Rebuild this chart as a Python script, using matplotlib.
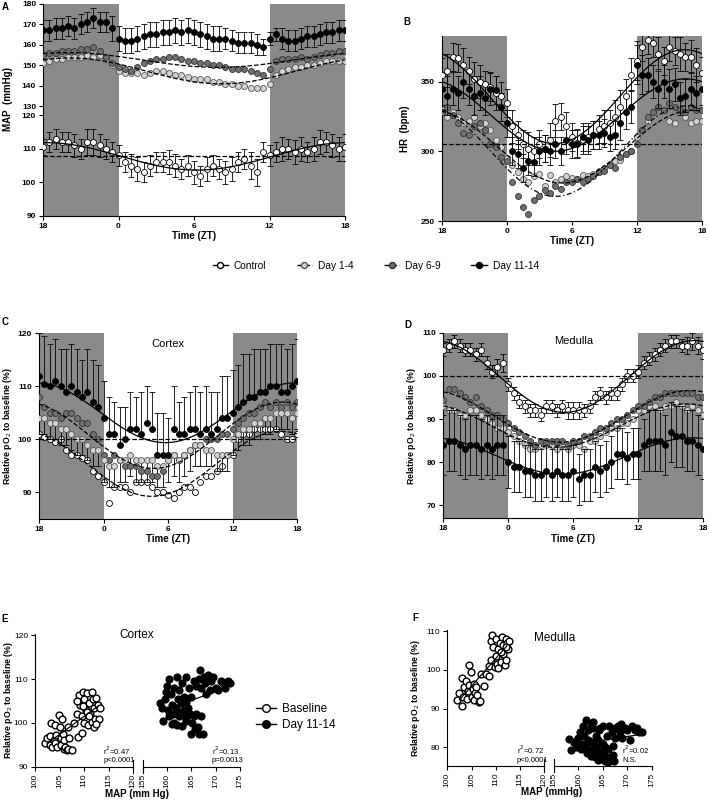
import numpy as np
import matplotlib
matplotlib.use("Agg")
import matplotlib.pyplot as plt
from matplotlib.lines import Line2D

plt.rcParams['font.family'] = ['Liberation Sans', 'DejaVu Sans']

# ---------------- data ----------------
# time axis: hours from ZT18 (0) to next ZT18 (24), every 30 min
hrs = np.arange(0, 24.5, 0.5)
tick_pos = [0, 6, 12, 18, 24]
tick_lab = ['18', '0', '6', '12', '18']
groups = ['Control', 'Day 1-4', 'Day 6-9', 'Day 11-14']

# A: MAP (mmHg)
mapA_ctrl = [110.5, 112, 113, 112, 112, 111, 110,
             112, 112, 111, 110, 109, 108, 106,
             105, 104, 103, 105, 106, 106, 106,
             105, 104, 105, 103, 102, 104, 105,
             104, 103, 104, 106, 107, 105, 103,
             109, 108, 109, 110, 110, 109, 110,
             109, 110, 112, 112, 111, 110, 110.5]
mapA_ctrl_err = [2.5, 3, 3, 3, 3, 3.5, 3,
                 4, 4, 3.5, 3, 3, 3, 3,
                 3.5, 3.5, 3, 3, 3, 3, 3.5,
                 3.5, 3, 3, 3.5, 3, 3.5, 3,
                 3, 3.5, 3.5, 3, 3, 4, 4,
                 3, 3, 3, 3.5, 3, 3.5, 3.5,
                 3, 3.5, 3.5, 3, 3.5, 3.5, 4]
mapA_d14 = [151, 152, 153, 153, 154, 154, 154,
            155, 154, 155, 153, 150, 147, 146,
            146, 146, 145, 146, 147, 147, 146,
            145, 145, 144, 143, 143, 143, 142,
            142, 141, 141, 140, 140, 139, 139,
            139, 141, 145, 147, 148, 149, 149,
            150, 150, 151, 152, 152, 152, 152]
mapA_d69 = [155, 156, 156, 157, 157, 157, 158,
            158, 159, 157, 154, 151, 149, 148,
            147, 149, 151, 152, 153, 153, 154,
            154, 153, 152, 152, 151, 151, 150,
            150, 149, 148, 148, 148, 147, 146,
            145, 148, 152, 153, 153, 153, 154,
            153, 154, 155, 156, 156, 157, 157]
mapA_d11 = [167, 167, 168, 168, 169, 168, 170,
            171, 173, 171, 171, 168, 163, 162,
            162, 163, 164, 165, 165, 166, 166,
            167, 166, 167, 166, 165, 164, 163,
            163, 163, 162, 161, 161, 161, 160,
            159, 163, 165, 163, 162, 162, 163,
            164, 164, 165, 166, 166, 167, 167]
mapA_d11_err = [5, 5, 5, 5, 5, 5, 5,
                5, 5, 5, 5, 6, 6, 6,
                6, 6, 6, 6, 6, 6, 6,
                6, 6, 6, 6, 6, 6, 6,
                6, 5, 5, 5, 5, 5, 5,
                4, 3, 3, 5, 5, 5, 5,
                5, 5, 5, 5, 5, 5, 5]

# B: HR (bpm)
hrB_ctrl = [355, 358, 368, 367, 362, 358, 352,
            350, 348, 346, 342, 340, 335, 318,
            312, 305, 302, 300, 305, 302, 308,
            322, 325, 318, 310, 306, 308, 310,
            312, 316, 318, 320, 325, 332, 340,
            355, 365, 375, 380, 378, 370, 365,
            375, 372, 370, 368, 368, 362, 356]
hrB_ctrl_err = [12, 12, 10, 10, 12, 10, 12,
                12, 10, 10, 12, 10, 10, 12,
                10, 10, 12, 10, 10, 10, 12,
                12, 10, 10, 10, 10, 10, 10,
                10, 10, 12, 10, 12, 12, 12,
                12, 14, 10, 10, 10, 12, 10,
                10, 10, 12, 10, 12, 12, 12]
hrB_d14 = [330, 325, 328, 325, 320, 322, 325,
           318, 320, 315, 308, 303, 295, 290,
           285, 280, 278, 282, 284, 275, 283,
           278, 280, 282, 281, 280, 283, 282,
           284, 286, 288, 290, 293, 294, 298,
           300, 310, 315, 322, 328, 332, 330,
           322, 320, 330, 325, 320, 322, 322]
hrB_d69 = [328, 332, 326, 320, 313, 312, 318,
           320, 315, 305, 303, 296, 293, 278,
           268, 260, 255, 265, 268, 272, 270,
           275, 273, 278, 278, 280, 278, 280,
           282, 285, 286, 290, 288, 296, 298,
           300, 305, 315, 325, 328, 332, 330,
           335, 332, 330, 328, 332, 330, 330]
hrB_d11 = [345, 340, 345, 342, 350, 345, 340,
           342, 338, 345, 344, 332, 320, 300,
           298, 288, 293, 292, 300, 302, 300,
           305, 300, 308, 305, 305, 310, 308,
           312, 312, 313, 310, 312, 320, 328,
           332, 362, 355, 355, 350, 345, 350,
           345, 348, 338, 340, 345, 342, 345]
hrB_d11_err = [12, 14, 12, 12, 12, 12, 14,
               12, 12, 12, 10, 10, 10, 10,
               10, 10, 10, 10, 10, 10, 10,
               10, 10, 10, 10, 10, 10, 10,
               10, 10, 10, 10, 10, 12, 12,
               12, 14, 14, 12, 12, 14, 12,
               14, 12, 12, 12, 12, 12, 12]
hr_ref = 305

# C: cortex relative pO2 (%)
poC_ctrl = [101, 100.5, 100, 99.5, 100, 98, 97,
            97, 96.5, 96, 94, 93, 92, 88,
            91, 91, 91, 90, 92, 92, 92,
            91, 90, 90, 89.5, 89, 90, 91,
            91, 90, 92, 93, 93, 94, 95,
            97, 97, 100, 101, 101, 102, 102,
            102, 102, 102, 101, 100, 100, 101]
poC_d14 = [104, 104, 103, 103, 102, 102, 101,
           100, 100, 99, 98, 98, 96, 95,
           95, 96, 96, 97, 96, 96, 96,
           96, 95, 95, 96, 97, 96, 97,
           98, 99, 99, 98, 98, 97, 97,
           97, 100, 101, 102, 102, 103, 103,
           104, 104, 105, 105, 105, 104, 105]
poC_d14_err = [3, 3, 3, 3, 3, 3, 3,
               3, 3, 3, 3, 3, 4, 4,
               4, 4, 4, 4, 4, 4, 4,
               4, 4, 4, 4, 4, 4, 4,
               4, 4, 4, 3, 3, 3, 3,
               3, 3, 3, 3, 3, 3, 3,
               3, 3, 3, 3, 3, 3, 3]
poC_d69 = [108, 106, 105, 105, 104, 105, 105,
           104, 103, 103, 101, 100, 97, 96,
           97, 96, 95, 95, 95, 94, 94,
           93, 93, 94, 96, 97, 96, 97,
           98, 99, 99, 100, 100, 100, 101,
           101, 102, 103, 104, 105, 105, 106,
           107, 106, 107, 106, 107, 106, 107]
poC_d11 = [112, 110.5, 110, 111, 110, 109, 110,
           109, 108, 109, 107, 106, 104, 101,
           101, 99, 100, 102, 102, 101, 103,
           102, 97, 97, 97, 102, 101, 101,
           102, 102, 101, 102, 101, 102, 104,
           104, 105, 106, 107, 108, 108, 109,
           109, 110, 110, 109, 109, 110, 111]
poC_d11_err = [8, 9, 8, 8, 7, 8, 8,
               8, 7, 8, 8, 8, 7, 7,
               6, 7, 6, 7, 6, 8, 7,
               7, 8, 8, 7, 8, 6, 7,
               7, 8, 8, 8, 8, 7, 8,
               8, 8, 8, 9, 8, 9, 8,
               8, 8, 8, 9, 8, 8, 8]

# D: medulla relative pO2 (%)
poD_ctrl = [106, 107, 108, 107, 106, 106, 105,
            106, 103, 101, 102, 103, 98, 96,
            94, 93, 92, 92, 91, 93, 93,
            92, 93, 92, 92, 92, 92, 93,
            95, 96, 95, 96, 96, 98, 100,
            100, 101, 103, 104, 105, 106, 107,
            108, 108, 107, 107, 108, 107, 106]
poD_ctrl_err = [1.5, 1.5, 1.5, 1.5, 1.5, 1.5, 1.5,
                1.5, 1.5, 1.5, 2, 2, 1.5, 1.5,
                1.5, 1.5, 1.5, 1.5, 1.5, 1.5, 1.5,
                1.5, 1.5, 2, 2, 2, 1.5, 1.5,
                1.5, 1.5, 1.5, 1.5, 1.5, 1.5, 1.5,
                1.5, 1.5, 1.5, 1.5, 1.5, 1.5, 1.5,
                1.5, 1.5, 1.5, 2, 2, 2, 2]
poD_d14 = [93, 92, 92, 91, 91, 92, 92,
           91, 90, 89, 88, 88, 87, 86,
           85, 84, 83, 83, 84, 84, 84,
           83, 84, 83, 84, 84, 83, 85,
           85, 86, 87, 88, 88, 89, 89,
           90, 92, 92, 93, 93, 92, 93,
           93, 94, 93, 92, 93, 92, 91]
poD_d69 = [94.5, 97, 97, 96, 95, 94, 95,
           93, 92, 91, 91, 90, 89, 88,
           87, 86, 85, 84, 85, 85, 85,
           85, 85, 84, 85, 85, 86, 86,
           87, 88, 88, 89, 90, 90, 91,
           92, 93, 93, 94, 95, 95, 96,
           96, 96, 96, 96, 96, 95, 95]
poD_d11 = [84, 85, 85, 84, 83, 84, 84,
           83, 84, 83, 84, 84, 80, 79,
           79, 78, 78, 77, 77, 78, 77,
           78, 77, 77, 78, 76, 77, 77,
           79, 78, 79, 80, 82, 82, 81,
           82, 82, 84, 85, 85, 85, 84,
           87, 86, 86, 85, 85, 84, 83]
poD_d11_err = [7, 7, 7, 7, 7, 7, 7,
               7, 7, 7, 7, 7, 6, 6,
               6, 6, 6, 6, 6, 6, 6,
               6, 6, 6, 6, 6, 6, 6,
               6, 6, 6, 6, 6, 6, 6,
               6, 6, 6, 7, 7, 7, 7,
               7, 7, 7, 7, 7, 7, 7]
po_ref = 100

# E: cortex pO2 vs MAP
e_base_map = [102.0, 102.5, 103.0, 103.0, 103.2, 103.5, 103.8, 104.0, 104.0, 104.3,
              104.5, 104.8, 105.0, 105.2, 105.3, 105.5, 105.6, 105.8, 106.0, 106.2,
              106.5, 106.8, 106.8, 107.0, 107.5, 108.0, 108.5, 108.8, 109.0, 109.2,
              109.5, 109.5, 109.8, 110.0, 110.0, 110.3, 110.5, 110.8, 111.0, 111.2,
              111.5, 111.5, 111.8, 112.0, 112.0, 112.3, 112.5, 112.8, 113.0, 113.2,
              110.5, 109.8, 111.0, 112.5, 108.5]
e_base_po = [95.5, 96.5, 95.0, 97.0, 99.9, 94.6, 96.0, 99.6, 95.5, 97.2,
             94.5, 101.9, 99.0, 96.5, 95.0, 101.0, 97.5, 94.0, 96.0, 94.5,
             93.8, 94.0, 99.0, 96.5, 93.8, 100.0, 102.0, 96.8, 106.3, 104.0,
             97.7, 101.5, 107.0, 105.5, 100.0, 103.0, 106.8, 99.5, 104.5, 102.0,
             107.0, 100.3, 105.5, 99.0, 103.5, 101.0, 105.8, 104.0, 101.0, 103.5,
             102.5, 103.8, 101.5, 99.8, 105.0]
e_d11_map = [158.5, 159.0, 159.2, 159.5, 159.8, 160.0, 160.2, 160.5, 160.8, 161.0,
             161.2, 161.5, 161.5, 161.8, 162.0, 162.0, 162.3, 162.5, 162.5, 162.8,
             163.0, 163.0, 163.2, 163.5, 163.5, 163.8, 164.0, 164.0, 164.3, 164.5,
             164.8, 165.0, 165.0, 165.2, 165.5, 165.5, 165.8, 166.0, 166.0, 166.3,
             166.5, 166.5, 166.8, 167.0, 167.0, 167.3, 167.5, 167.8, 168.0, 168.5,
             168.8, 169.0, 169.5, 170.0, 170.5, 171.0, 171.5, 172.0, 172.5, 173.0,
             160.5, 161.0, 163.8, 162.2]
e_d11_po = [104.5, 103.5, 100.5, 105.5, 107.0, 108.5, 103.0, 110.0, 106.5, 104.0,
            102.0, 100.0, 108.0, 103.5, 99.5, 110.5, 102.5, 101.5, 107.5, 104.5,
            99.3, 109.0, 102.0, 103.0, 106.0, 101.0, 110.5, 100.5, 103.5, 108.0,
            102.0, 97.5, 106.0, 100.0, 109.5, 101.5, 98.5, 108.5, 102.0, 99.0,
            110.0, 97.5, 112.0, 108.0, 101.5, 97.5, 110.5, 109.0, 106.5, 111.0,
            107.5, 109.5, 110.5, 108.0, 107.5, 109.5, 109.0, 108.0, 109.5, 109.0,
            101.5, 99.8, 104.8, 105.5]

# F: medulla pO2 vs MAP
f_base_map = [102.0, 102.5, 103.0, 103.0, 103.2, 103.5, 103.8, 104.0, 104.2, 104.5,
              104.5, 104.8, 105.0, 105.2, 105.5, 105.5, 105.8, 106.0, 106.2, 106.5,
              106.8, 107.0, 107.5, 108.0, 108.5, 108.5, 109.0, 109.0, 109.2, 109.5,
              109.8, 110.0, 110.0, 110.3, 110.5, 110.8, 111.0, 111.2, 111.5, 111.5,
              111.8, 112.0, 112.0, 112.3, 112.5, 112.8, 110.5, 111.0, 112.0]
f_base_po = [92.3, 94.0, 90.7, 98.0, 93.0, 95.5, 97.2, 92.5, 94.5, 101.2,
             96.0, 99.4, 93.0, 95.0, 96.5, 92.2, 94.0, 95.7, 93.5, 91.8,
             92.0, 99.0, 95.8, 99.0, 98.5, 101.0, 102.5, 107.5, 109.0, 106.0,
             100.8, 108.0, 103.5, 101.5, 105.5, 107.0, 102.0, 108.5, 104.0, 106.5,
             101.2, 108.0, 102.5, 107.0, 105.5, 107.5, 100.5, 104.5, 106.0]
f_d11_map = [158.0, 158.5, 159.0, 159.5, 160.0, 160.3, 160.5, 160.8, 161.0, 161.2,
             161.5, 161.5, 161.8, 162.0, 162.0, 162.3, 162.5, 162.5, 162.8, 163.0,
             163.0, 163.3, 163.5, 163.5, 163.8, 164.0, 164.0, 164.3, 164.5, 164.8,
             165.0, 165.0, 165.3, 165.5, 165.8, 166.0, 166.0, 166.3, 166.5, 166.8,
             167.0, 167.2, 167.5, 167.5, 168.0, 168.5, 168.8, 169.0, 169.5, 170.0,
             170.5, 171.0, 171.5, 172.0, 172.5, 173.0, 163.0, 164.5, 165.5, 167.0]
f_d11_po = [82.3, 79.3, 81.5, 80.0, 82.5, 84.0, 79.5, 81.0, 85.5, 83.0,
            80.5, 87.2, 78.5, 84.5, 82.0, 79.0, 86.0, 77.8, 81.5, 85.0,
            79.5, 77.5, 83.0, 80.5, 78.0, 82.0, 76.8, 84.5, 79.0, 77.0,
            81.0, 85.5, 78.0, 76.5, 83.0, 79.5, 76.2, 85.5, 77.5, 84.0,
            78.0, 76.5, 85.0, 82.5, 85.5, 84.0, 86.0, 82.5, 85.0, 84.5,
            82.0, 85.5, 84.5, 85.0, 84.0, 84.0, 86.5, 85.0, 80.0, 80.5]

e_stats = ['r$^2$=0.47\np<0.0001', 'r$^2$=0.13\np=0.0013']
f_stats = ['r$^2$=0.72\np<0.0001', 'r$^2$=0.02\nN.S.']

# ---------------- styles ----------------
shade = '#8a8a8a'
fills = {'Control': 'white', 'Day 1-4': '#d2d2d2', 'Day 6-9': '#6f6f6f', 'Day 11-14': 'black'}
edges = {'Control': 'black', 'Day 1-4': '#555555', 'Day 6-9': '#303030', 'Day 11-14': 'black'}
W, H = 709, 800


def box(x0, y0, x1, y1):
    # pixel box (top-left / bottom-right) -> figure rect
    return [x0 / W, 1 - y1 / H, (x1 - x0) / W, (y1 - y0) / H]


hfine = np.linspace(0, 24, 200)


def cosfit(y):
    X = np.column_stack([np.ones_like(hrs), np.cos(2 * np.pi * hrs / 24), np.sin(2 * np.pi * hrs / 24)])
    c = np.linalg.lstsq(X, np.asarray(y, float), rcond=None)[0]
    Xf = np.column_stack([np.ones_like(hfine), np.cos(2 * np.pi * hfine / 24), np.sin(2 * np.pi * hfine / 24)])
    return Xf @ c, c[0]


def series(ax, y, g, err=None, side='both'):
    if err is None:
        ax.plot(hrs, y, 'o', ms=4.3, mfc=fills[g], mec=edges[g], mew=0.6, zorder=3)
        return
    e = np.asarray(err, float)
    if side == 'up':
        yerr = [np.zeros_like(e), e]
    elif side == 'down':
        yerr = [e, np.zeros_like(e)]
    else:
        yerr = e
    ax.errorbar(hrs, y, yerr=yerr, fmt='o', ms=4.3, mfc=fills[g], mec=edges[g], mew=0.6,
                ecolor='black', elinewidth=0.6, capsize=2, capthick=0.6, zorder=3)


def fitline(ax, y, ls='-'):
    f, m = cosfit(y)
    ax.plot(hfine, f, color='black', lw=0.9, ls=ls, zorder=4)
    return m


def time_axes(ax, ylabel, ysize=7):
    ax.axvspan(0, 6, color=shade, lw=0, zorder=0)
    ax.axvspan(18, 24, color=shade, lw=0, zorder=0)
    ax.set_xlim(0, 24)
    ax.set_xticks(tick_pos)
    ax.set_xticklabels(tick_lab)
    for s in ['top', 'right']:
        ax.spines[s].set_visible(False)
    ax.tick_params(direction='out', length=3, width=0.8, labelsize=6, pad=2)
    for t in ax.get_xticklabels() + ax.get_yticklabels():
        t.set_fontweight('bold')
    ax.set_xlabel('Time (ZT)', fontsize=7, fontweight='bold', labelpad=1)
    ax.set_ylabel(ylabel, fontsize=ysize, fontweight='bold', labelpad=3)


fig = plt.figure(figsize=(W / 100, H / 100), dpi=100)

# ---- A ----
axA = fig.add_axes(box(43, 3.7, 345, 216))
yv = [90, 120, 130, 180]
yp = [0, 101, 110, 212.5]
axA.set_yscale('function', functions=(lambda v: np.interp(v, yv, yp), lambda p: np.interp(p, yp, yv)))
series(axA, mapA_ctrl, 'Control', mapA_ctrl_err)
series(axA, mapA_d14, 'Day 1-4')
series(axA, mapA_d69, 'Day 6-9')
series(axA, mapA_d11, 'Day 11-14', mapA_d11_err)
mA = fitline(axA, mapA_ctrl)
axA.axhline(mA, color='black', lw=0.9, ls='--', zorder=4)
fitline(axA, mapA_d14, '--')
fitline(axA, mapA_d69, '--')
axA.set_ylim(90, 180)
axA.set_yticks([90, 100, 110, 120, 130, 140, 150, 160, 170, 180])
time_axes(axA, 'MAP  (mmHg)')
axA.yaxis.set_label_coords(-0.1, 0.55)

# ---- B ----
axB = fig.add_axes(box(441.7, 35.7, 701.7, 221))
series(axB, hrB_d14, 'Day 1-4')
series(axB, hrB_d69, 'Day 6-9')
series(axB, hrB_ctrl, 'Control', hrB_ctrl_err)
series(axB, hrB_d11, 'Day 11-14', hrB_d11_err)
fitline(axB, hrB_ctrl)
fitline(axB, hrB_d11)
fitline(axB, hrB_d14, '--')
fitline(axB, hrB_d69, (0, (4, 2, 1, 2)))
axB.axhline(hr_ref, color='black', lw=0.9, ls='--', zorder=4)
axB.set_ylim(250, 383)
axB.set_yticks([250, 300, 350])
time_axes(axB, 'HR  (bpm)')
axB.yaxis.set_label_coords(-0.12, 0.5)

# ---- C ----
axC = fig.add_axes(box(39, 333.3, 297.3, 518.7))
series(axC, poC_ctrl, 'Control')
series(axC, poC_d14, 'Day 1-4', poC_d14_err, 'down')
series(axC, poC_d69, 'Day 6-9')
series(axC, poC_d11, 'Day 11-14', poC_d11_err, 'up')
fitline(axC, poC_d11)
fitline(axC, poC_d69, '--')
fitline(axC, poC_ctrl, '--')
axC.axhline(po_ref, color='black', lw=0.9, ls='--', zorder=4)
axC.set_ylim(85, 120)
axC.set_yticks([90, 100, 110, 120])
time_axes(axC, 'Relative pO$_2$ to baseline (%)', 6.3)
axC.text(12, 119, 'Cortex', ha='center', va='top', fontsize=8)

# ---- D ----
axD = fig.add_axes(box(443.3, 332.7, 703.3, 518.3))
series(axD, poD_d14, 'Day 1-4')
series(axD, poD_d69, 'Day 6-9')
series(axD, poD_d11, 'Day 11-14', poD_d11_err)
series(axD, poD_ctrl, 'Control', poD_ctrl_err)
fitline(axD, poD_ctrl)
fitline(axD, poD_d69, '--')
fitline(axD, poD_d14, '--')
fitline(axD, poD_d11)
axD.axhline(po_ref, color='black', lw=0.9, ls='--', zorder=4)
axD.set_ylim(67, 110)
axD.set_yticks([70, 80, 90, 100, 110])
time_axes(axD, 'Relative pO$_2$ to baseline (%)', 6.3)
axD.text(12, 109.3, 'Medulla', ha='center', va='top', fontsize=8)

# ---- shared legend ----
h = [Line2D([], [], color='black', ls='-', marker='o', mfc=fills['Control'], mec='black', ms=4.3, lw=1),
     Line2D([], [], color='black', ls='--', marker='o', mfc=fills['Day 1-4'], mec=edges['Day 1-4'], ms=4.3, lw=1),
     Line2D([], [], color='black', ls='--', marker='o', mfc=fills['Day 6-9'], mec=edges['Day 6-9'], ms=4.3, lw=1),
     Line2D([], [], color='black', ls='-', marker='o', mfc='black', mec='black', ms=4.3, lw=1)]
fig.legend(h, groups, loc='center', bbox_to_anchor=(0.53, 1 - 266 / H), ncol=4, frameon=False,
           fontsize=7.3, handlelength=1.5, columnspacing=3.0, handletextpad=0.6)


# ---- E / F scatter panels ----
def scatter_pair(r1, r2, ylim, yticks, bmap, bpo, dmap, dpo, stats, stat_xy):
    a1 = fig.add_axes(r1)
    a2 = fig.add_axes(r2, sharey=a1)
    for a, xl, xt in [(a1, (100, 120), [100, 105, 110, 115, 120]), (a2, (155, 175), [155, 160, 165, 170, 175])]:
        a.set_xlim(*xl)
        a.set_xticks(xt)
        a.tick_params(direction='out', length=3, width=0.8, labelsize=6, pad=2)
        a.tick_params(axis='x', labelrotation=90)
        for s in ['top', 'right']:
            a.spines[s].set_visible(False)
        a.patch.set_alpha(0)
    a2.spines['left'].set_visible(False)
    a2.tick_params(axis='y', left=False, labelleft=False)
    a1.set_ylim(*ylim)
    a1.set_yticks(yticks)
    a1.set_ylabel('Relative pO$_2$ to baseline (%)', fontsize=6.3, fontweight='bold', labelpad=3)
    # break marks
    a1.plot([120, 120], [-0.05, 0.05], color='black', lw=0.8, transform=a1.get_xaxis_transform(), clip_on=False)
    a2.plot([155, 155], [-0.05, 0.05], color='black', lw=0.8, transform=a2.get_xaxis_transform(), clip_on=False)
    a1.scatter(bmap, bpo, s=24, facecolor='white', edgecolor='black', lw=1.0, zorder=3)
    a2.scatter(dmap, dpo, s=24, facecolor='black', edgecolor='black', lw=1.0, zorder=3)
    for a, mx, my in [(a1, bmap, bpo), (a2, dmap, dpo)]:
        k, b = np.polyfit(mx, my, 1)
        xx = np.array([min(mx) + 0.5, max(mx) - 0.5])
        a.plot(xx, k * xx + b, color='black', lw=0.9, zorder=4)
    a1.text(stat_xy[0], stat_xy[2], stats[0], fontsize=5.5, va='bottom', linespacing=1.1)
    a2.text(stat_xy[1], stat_xy[2], stats[1], fontsize=5.5, va='bottom', linespacing=1.1)
    return a1, a2


e1, e2 = scatter_pair(box(35, 634, 133.3, 766.7), box(142.7, 634, 240, 766.7), (90, 120.3),
                      [90, 100, 110, 120], e_base_map, e_base_po, e_d11_map, e_d11_po,
                      e_stats, (113.9, 169.2, 90.6))
e1.yaxis.set_label_coords(-0.2, 0.5)
f1, f2 = scatter_pair(box(447.3, 630, 544.3, 765.7), box(554, 630, 651.7, 765.7), (75.3, 110.3),
                      [80, 90, 100, 110], f_base_map, f_base_po, f_d11_map, f_d11_po,
                      f_stats, (114.3, 168.9, 75.8))
fig.text(136.7 / W, 1 - 794 / H, 'MAP (mm Hg)', ha='center', va='center', fontsize=7, fontweight='bold')
fig.text(551.7 / W, 1 - 792 / H, 'MAP (mmHg)', ha='center', va='center', fontsize=7, fontweight='bold')
fig.text(136.7 / W, 1 - 635 / H, 'Cortex', ha='center', va='center', fontsize=8.5)
fig.text(555 / W, 1 - 637.7 / H, 'Medulla', ha='center', va='center', fontsize=8.5)

eh = [Line2D([], [], color='black', marker='o', mfc='white', mec='black', ms=5.5, mew=1.0, lw=1),
      Line2D([], [], color='black', marker='o', mfc='black', mec='black', ms=5.5, lw=1)]
fig.legend(eh, ['Baseline', 'Day 11-14'], loc='center left', bbox_to_anchor=(245 / W, 1 - 717 / H),
           frameon=False, fontsize=8.5, handlelength=1.7, handletextpad=0.5, labelspacing=0.3)

# panel letters
for lab, px, py in [('A', 5, 7), ('B', 407, 22), ('C', 5, 322), ('D', 408, 325), ('E', 5, 619), ('F', 415, 618)]:
    fig.text(px / W, 1 - py / H, lab, fontsize=7, fontweight='bold', ha='center', va='center')

plt.savefig('out.png', dpi=100)
